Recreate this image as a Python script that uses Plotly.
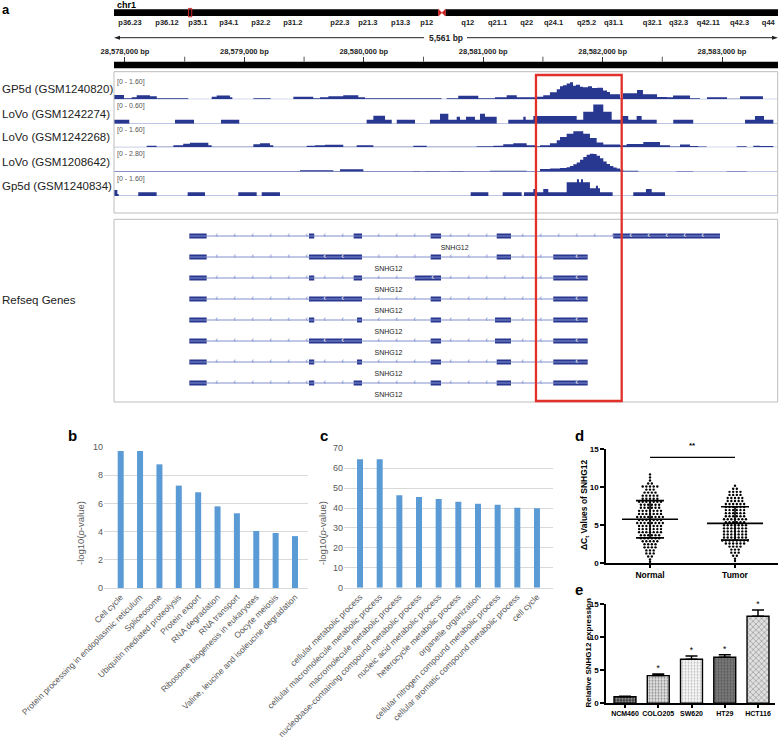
import plotly.graph_objects as go

# ======================= DATA =======================
# --- panel a: chromosome ideogram (chr1, Mb) ---
chrom_name = "chr1"
chrom_len_mb = 249.25
centromere_mb = 123.1
view_mb = 28.58
band_names = ["p36.23", "p36.12", "p35.1", "p34.1", "p32.2", "p31.2", "p22.3", "p21.3",
              "p13.3", "p12", "q12", "q21.1", "q22", "q24.1", "q25.2", "q31.1", "q32.1",
              "q32.3", "q42.11", "q42.3", "q44"]
band_pos_mb = [6.0, 19.9, 31.5, 43.1, 55.1, 67.1, 84.8, 95.3, 107.6, 117.4, 132.8, 144.0,
               154.9, 165.0, 177.4, 187.5, 202.1, 211.9, 223.1, 234.8, 245.6]

# --- panel a: locus ---
region_start = 28577908
region_end = 28583469
ruler_major = [28578000, 28579000, 28580000, 28581000, 28582000, 28583000]
ruler_minor = [28578500, 28579500, 28580500, 28581500, 28582500]
highlight_region = [28581442, 28582160]

track_names = ["GP5d (GSM1240820)", "LoVo (GSM1242274)", "LoVo (GSM1242268)",
               "LoVo (GSM1208642)", "Gp5d (GSM1240834)"]
track_max = [1.60, 0.60, 1.60, 2.80, 1.60]

t1_edges = [28577908, 28577992, 28578056, 28578098, 28578209, 28578266, 28578530, 28578726,
            28578768, 28578879, 28578899, 28579075, 28579220, 28579410, 28579577, 28579633,
            28579703, 28579828, 28579954, 28580010, 28580652, 28580694, 28580791, 28580959,
            28581099, 28581197, 28581281, 28581434, 28581503, 28581559, 28581616, 28581643,
            28581668, 28581699, 28581727, 28581752, 28581777, 28581811, 28581836, 28581878,
            28581911, 28581953, 28582003, 28582037, 28582062, 28582146, 28582171, 28582288,
            28582338, 28582456, 28582539, 28582590, 28582732, 28582816, 28582874, 28583042,
            28583151, 28583343, 28583469]
t1_vals = [0.30, 0.07, 0.14, 0.28, 0.21, 0.07, 0, 0.17, 0.26, 0.14, 0, 0.07, 0, 0.17, 0.07,
           0.14, 0.21, 0.28, 0.14, 0.07, 0, 0.07, 0.24, 0.07, 0.14, 0.28, 0.14, 0.17, 0.28,
           0.49, 0.70, 0.90, 0.97, 1.10, 1.18, 0.95, 1.02, 0.88, 0.84, 0.90, 0.78, 0.80, 0.62,
           0.50, 0.35, 0.07, 0.42, 0.65, 0.35, 0.16, 0.14, 0.26, 0.07, 0.02, 0.14, 0.035,
           0.21, 0]

t2_edges = [28577908, 28578036, 28578419, 28578578, 28578804, 28578957, 28580024, 28580080,
            28580178, 28580234, 28580276, 28580429, 28580554, 28580638, 28580708, 28580778,
            28580806, 28580856, 28580931, 28580973, 28581015, 28581113, 28581210, 28581336,
            28581356, 28581420, 28581783, 28581838, 28581922, 28582006, 28582076, 28582160,
            28582215, 28582285, 28582327, 28582453, 28582592, 28582759, 28583193, 28583276,
            28583352, 28583430, 28583469]
t2_vals = [0.10, 0, 0.10, 0, 0.10, 0, 0.10, 0.21, 0.10, 0, 0.10, 0, 0.10, 0.26, 0.10, 0.18,
           0.10, 0.18, 0.10, 0.26, 0.18, 0, 0.10, 0.18, 0.10, 0.20, 0.10, 0.31, 0.50, 0.31,
           0.10, 0.20, 0.10, 0.20, 0.10, 0, 0.10, 0, 0.10, 0.20, 0.10, 0]

t3_edges = [28577908, 28578182, 28578265, 28578405, 28578488, 28578544, 28578698, 28578726,
            28579075, 28579131, 28579214, 28579242, 28579522, 28579591, 28579675, 28579828,
            28579940, 28580080, 28580415, 28580527, 28580945, 28581085, 28581168, 28581252,
            28581364, 28581434, 28581476, 28581559, 28581616, 28581643, 28581699, 28581755,
            28581838, 28581894, 28581950, 28582006, 28582146, 28582202, 28582341, 28582481,
            28582564, 28582648, 28582732, 28582801, 28582872, 28583123, 28583207, 28583262,
            28583318, 28583430, 28583469]
t3_vals = [0.02, 0.10, 0.035, 0.14, 0.24, 0.31, 0.14, 0.035, 0.21, 0.28, 0.14, 0.035, 0.10,
           0.14, 0.17, 0.035, 0.14, 0.035, 0.10, 0.035, 0.07, 0.10, 0.21, 0.28, 0.14, 0.07,
           0.14, 0.28, 0.49, 0.72, 0.95, 1.11, 0.95, 0.65, 0.33, 0.19, 0.14, 0.23, 0.37, 0.14,
           0.05, 0.19, 0.09, 0.05, 0, 0.07, 0.02, 0.10, 0.09, 0]

t4_edges = [28577908, 28578067, 28579466, 28579745, 28579801, 28579996, 28580415, 28580471,
            28580513, 28580638, 28580722, 28580833, 28581057, 28581364, 28581476, 28581560,
            28581643, 28581699, 28581727, 28581755, 28581783, 28581811, 28581838, 28581866,
            28581894, 28581922, 28581950, 28581978, 28582006, 28582034, 28582062, 28582090,
            28582118, 28582146, 28582173, 28582299, 28582620, 28582759, 28583039, 28583207,
            28583469]
t4_vals = [0.06, 0.04, 0.18, 0.06, 0.30, 0.04, 0.085, 0.04, 0.085, 0.04, 0.085, 0.04, 0.12,
           0.04, 0.33, 0.40, 0.45, 0.55, 0.70, 0.90, 1.12, 1.45, 1.80, 2.05, 2.20, 2.15, 1.95,
           1.65, 1.25, 0.95, 0.70, 0.52, 0.38, 0.25, 0.12, 0, 0.06, 0, 0.04, 0]

t5_edges = [28577908, 28577936, 28577947, 28578111, 28578265, 28578525, 28578670, 28578949,
            28579103, 28579145, 28579298, 28580895, 28581043, 28581163, 28581322, 28581342,
            28581420, 28581448, 28581503, 28581545, 28581699, 28581785, 28581802, 28581819,
            28581836, 28581894, 28581944, 28581961, 28581978, 28582084, 28582257, 28582363,
            28582411, 28582523, 28583469]
t5_vals = [0.42, 0.14, 0, 0.26, 0, 0.26, 0, 0.26, 0, 0.26, 0, 0.26, 0, 0.26, 0, 0.26, 0.49,
           0.26, 0.49, 0.26, 0.95, 1.16, 0.95, 1.16, 0.95, 0.54, 0.72, 0.54, 0.26, 0, 0.26,
           0.49, 0.26, 0]

gene_name = "SNHG12"
transcripts = [
    [(28578539, 28578684), (28579541, 28579585), (28579915, 28579985), (28580560, 28580647),
     (28581113, 28581233), (28582089, 28582983)],
    [(28578539, 28578684), (28579541, 28579985), (28580560, 28580647), (28581113, 28581233),
     (28581587, 28581875)],
    [(28578539, 28578684), (28579541, 28579585), (28579915, 28579985), (28580429, 28580647),
     (28581587, 28581875)],
    [(28578539, 28578684), (28579541, 28579985), (28580560, 28580647), (28581587, 28581875)],
    [(28578539, 28578684), (28579541, 28579585), (28579943, 28579985), (28580560, 28580647),
     (28581099, 28581233), (28581587, 28581875)],
    [(28578539, 28578684), (28579541, 28579985), (28580560, 28580647), (28581099, 28581233),
     (28581587, 28581875)],
    [(28578539, 28578684), (28579541, 28579585), (28579943, 28579985), (28580560, 28580647),
     (28581113, 28581233), (28581587, 28581875)],
    [(28578539, 28578684), (28579541, 28579585), (28579915, 28579985), (28580560, 28580647),
     (28581113, 28581233), (28581587, 28581875)],
]

# --- panel b: KEGG ---
kegg_terms = ["Cell cycle", "Protein processing in endoplasmic reticulum", "Spliceosome",
              "Ubiquitin mediated proteolysis", "Protein export", "RNA degradation",
              "RNA transport", "Ribosome biogenesis in eukaryotes", "Oocyte meiosis",
              "Valine, leucine and isoleucine degradation"]
kegg_logp = [9.72, 9.72, 8.77, 7.26, 6.79, 5.79, 5.30, 4.04, 3.90, 3.68]

# --- panel c: GO ---
go_terms = ["cellular metabolic process", "cellular macromolecule metabolic process",
            "macromolecule metabolic process", "nucleobase-containing compound metabolic process",
            "nucleic acid metabolic process", "heterocycle metabolic process",
            "organelle organization", "cellular nitrogen compound metabolic process",
            "cellular aromatic compound metabolic process", "cell cycle"]
go_logp = [64.5, 64.5, 46.4, 45.6, 44.6, 43.1, 42.1, 41.6, 40.1, 39.9]

# --- panel d: delta Ct ---
d_groups = ["Normal", "Tumor"]
normal_ct = [11.7, 11.3, 10.9, 10.5, 10.5, 10.1, 10.1, 10.1, 10.1, 10.1, 9.7, 9.7, 9.7,
             9.3, 9.3, 9.3, 9.3, 8.9, 8.9, 8.9, 8.9, 8.9, 8.5, 8.5, 8.5, 8.5, 8.5,
             8.1, 8.1, 8.1, 8.1, 8.1, 8.1, 8.1, 7.7, 7.7, 7.7, 7.7, 7.7, 7.7,
             7.3, 7.3, 7.3, 7.3, 7.3, 7.3, 6.9, 6.9, 6.9, 6.9, 6.9, 6.9, 6.9,
             6.5, 6.5, 6.5, 6.5, 6.5, 6.5, 6.5, 6.1, 6.1, 6.1, 6.1, 6.1, 6.1, 6.1, 6.1,
             5.7, 5.7, 5.7, 5.7, 5.7, 5.7, 5.7, 5.3, 5.3, 5.3, 5.3, 5.3, 5.3, 5.3, 5.3,
             4.9, 4.9, 4.9, 4.9, 4.9, 4.9, 4.9, 4.5, 4.5, 4.5, 4.5, 4.5, 4.5, 4.5,
             4.1, 4.1, 4.1, 4.1, 4.1, 4.1, 4.1, 3.7, 3.7, 3.7, 3.7, 3.7, 3.7,
             3.3, 3.3, 3.3, 3.3, 3.3, 3.3, 2.9, 2.9, 2.9, 2.9, 2.9, 2.5, 2.5, 2.5, 2.5,
             2.1, 2.1, 2.1, 2.1, 1.7, 1.7, 1.7, 1.3, 1.3, 1.3, 0.9, 0.9, 0.5, 0.2]
tumor_ct = [10.2, 9.8, 9.8, 9.4, 9.4, 9.4, 9.4, 9.0, 9.0, 9.0, 9.0, 8.6, 8.6, 8.6, 8.6, 8.6,
            8.2, 8.2, 8.2, 8.2, 8.2, 7.8, 7.8, 7.8, 7.8, 7.8, 7.8, 7.4, 7.4, 7.4, 7.4, 7.4, 7.4,
            7.0, 7.0, 7.0, 7.0, 7.0, 7.0, 6.6, 6.6, 6.6, 6.6, 6.6, 6.6,
            6.2, 6.2, 6.2, 6.2, 6.2, 6.2, 5.8, 5.8, 5.8, 5.8, 5.8, 5.8, 5.8,
            5.4, 5.4, 5.4, 5.4, 5.4, 5.4, 5.0, 5.0, 5.0, 5.0, 5.0, 5.0, 5.0,
            4.6, 4.6, 4.6, 4.6, 4.6, 4.6, 4.6, 4.2, 4.2, 4.2, 4.2, 4.2, 4.2, 4.2,
            3.8, 3.8, 3.8, 3.8, 3.8, 3.8, 3.8, 3.4, 3.4, 3.4, 3.4, 3.4, 3.4, 3.4,
            3.0, 3.0, 3.0, 3.0, 3.0, 3.0, 3.0, 3.0, 2.6, 2.6, 2.6, 2.6, 2.6, 2.6,
            2.2, 2.2, 2.2, 2.2, 1.8, 1.8, 1.8, 1.4, 1.4, 1.4, 1.0, 1.0, 0.6, 0.3]
d_mean = [5.8, 5.25]
d_sd = [2.45, 2.2]
d_sig_level = 13.95
d_sig_text = "**"

# --- panel e: cell lines ---
cell_lines = ["NCM460", "COLO205", "SW620", "HT29", "HCT116"]
rel_expr = [1.0, 4.2, 6.67, 6.97, 13.2]
rel_err = [0.05, 0.25, 0.5, 0.4, 0.95]
rel_sig = ["", "*", "*", "*", "*"]

# ======================= STYLE / LAYOUT =======================
W, H = 782, 743
FONT = "Liberation Sans, Arial, Helvetica, sans-serif"
DARK = "#28378f"
BASE = "#aab3da"
INTRON = "#8391cf"
RED = "#e1312a"
XLBLUE = "#5b9bd5"
GRID = "#d9d9d9"
GRAYTXT = "#595959"


def fx(p):
    return p / W


def fy(p):
    return 1 - p / H


fig = go.Figure()
shapes = []
ann = []


def text(x, y, s, size, color="#222", xanchor="center", yanchor="middle", angle=0,
         xref="paper", yref="paper"):
    ann.append(dict(x=x, y=y, xref=xref, yref=yref, text=s, showarrow=False,
                    font=dict(family=FONT, size=size, color=color), xanchor=xanchor,
                    yanchor=yanchor, textangle=angle, borderpad=0))


L, R = 114, 778
axes = {}

# ---------- ideogram ----------
IT, IB = 9.3, 16.0
cw = 1.3
c = centromere_mb
shapes += [
    dict(type="rect", xref="x2", yref="paper", x0=0, x1=c - cw, y0=fy(IB), y1=fy(IT),
         fillcolor="black", line=dict(width=0)),
    dict(type="rect", xref="x2", yref="paper", x0=c + cw, x1=chrom_len_mb, y0=fy(IB), y1=fy(IT),
         fillcolor="black", line=dict(width=0)),
    dict(type="path", xref="x2", yref="paper",
         path=(f"M {c - cw},{fy(IT)} L {c},{fy((IT + IB) / 2)} L {c - cw},{fy(IB)} Z "
               f"M {c + cw},{fy(IT)} L {c},{fy((IT + IB) / 2)} L {c + cw},{fy(IB)} Z"),
         fillcolor="#d02020", line=dict(color="#d02020", width=0.5)),
    dict(type="rect", xref="x2", yref="paper", x0=view_mb - 0.6, x1=view_mb + 0.6,
         y0=fy(16.8), y1=fy(8.4), line=dict(color="#d02020", width=1),
         fillcolor="rgba(0,0,0,0)"),
]
fig.add_trace(go.Scatter(x=[view_mb], y=[0.5], xaxis="x2", yaxis="y7", mode="markers",
                         marker=dict(opacity=0, size=1), hoverinfo="skip"))
axes["xaxis2"] = dict(domain=[fx(L), fx(R)], range=[0, chrom_len_mb], anchor="free",
                      position=fy(IB), side="bottom", tickmode="array", tickvals=band_pos_mb,
                      ticktext=band_names, ticks="", showgrid=False, zeroline=False,
                      showline=False, automargin=False, fixedrange=True,
                      tickfont=dict(family=FONT, size=7.5, color="#222", weight="bold"))
axes["yaxis7"] = dict(domain=[fy(IB), fy(IT)], range=[0, 1], anchor="x2", visible=False,
                      fixedrange=True)
text(fx(0.5), fy(1), "<b>a</b>", 13, color="black", xanchor="left", yanchor="top")
text(fx(116), fy(4.8), f"<b>{chrom_name}</b>", 9, color="black", xanchor="left")

# ---------- ruler ----------
ry = 37.7
span_label = f"<b>{region_end - region_start:,} bp</b>"
mid = (L + R) / 2
shapes += [
    dict(type="line", xref="paper", yref="paper", x0=fx(L + 4), x1=fx(mid - 22), y0=fy(ry),
         y1=fy(ry), line=dict(color="#222", width=1)),
    dict(type="line", xref="paper", yref="paper", x0=fx(mid + 21), x1=fx(R - 4), y0=fy(ry),
         y1=fy(ry), line=dict(color="#222", width=1)),
    dict(type="path", xref="paper", yref="paper",
         path=f"M {fx(L)},{fy(ry)} L {fx(L + 6)},{fy(ry - 2)} L {fx(L + 6)},{fy(ry + 2)} Z",
         fillcolor="#222", line=dict(width=0)),
    dict(type="path", xref="paper", yref="paper",
         path=f"M {fx(R)},{fy(ry)} L {fx(R - 6)},{fy(ry - 2)} L {fx(R - 6)},{fy(ry + 2)} Z",
         fillcolor="#222", line=dict(width=0)),
    dict(type="rect", xref="x", yref="paper", x0=region_start, x1=region_end, y0=fy(68.3),
         y1=fy(61.7), fillcolor="black", line=dict(width=0)),
]
for v in ruler_minor:
    shapes.append(dict(type="line", xref="x", yref="paper", x0=v, x1=v, y0=fy(61.7),
                       y1=fy(56.7), line=dict(color="#555", width=1)))
text(fx(mid), fy(ry), span_label, 8.5, color="#222")
axes["xaxis"] = dict(domain=[fx(L), fx(R)], range=[region_start, region_end], anchor="free",
                     position=fy(61.7), side="top", tickmode="array", tickvals=ruler_major,
                     ticktext=[f"{v:,} bp" for v in ruler_major],
                     ticks="outside", ticklen=5, tickwidth=1, tickcolor="#333",
                     showgrid=False, zeroline=False, showline=False, automargin=False,
                     fixedrange=True,
                     tickfont=dict(family=FONT, size=7.5, color="#222", weight="bold"))

# ---------- tracks ----------
baselines = [99.3, 123.7, 147.3, 171.7, 196.0]
TRACK_PX = 23
tracks = [(t1_edges, t1_vals), (t2_edges, t2_vals), (t3_edges, t3_vals),
          (t4_edges, t4_vals), (t5_edges, t5_vals)]
shapes.append(dict(type="rect", xref="paper", yref="paper", x0=fx(L), x1=fx(777.7),
                   y0=fy(213), y1=fy(71.7), line=dict(color="#bdbdbd", width=1),
                   fillcolor="rgba(0,0,0,0)"))
for k, (edges, vals) in enumerate(tracks):
    yname = "y" if k == 0 else f"y{k + 1}"
    ykey = "yaxis" if k == 0 else f"yaxis{k + 1}"
    b = baselines[k]
    fig.add_trace(go.Scatter(x=edges, y=list(vals) + [vals[-1]], xaxis="x", yaxis=yname,
                             mode="lines", line=dict(shape="hv", width=0, color=DARK),
                             fill="tozeroy", fillcolor=DARK, hoverinfo="skip"))
    axes[ykey] = dict(domain=[fy(b), fy(b - TRACK_PX)], range=[0, track_max[k]], anchor="x",
                      visible=False, fixedrange=True)
    shapes.append(dict(type="line", xref="paper", yref=yname, x0=fx(L), x1=fx(R - 1), y0=0,
                       y1=0, line=dict(color=BASE, width=1.3), layer="below"))
    text(fx(1), fy(b - 10), track_names[k], 11.5, color="#222", xanchor="left")
    text(fx(116), fy(b - 17.3), f"[0 - {track_max[k]:.2f}]", 7, color="#555",
         xanchor="left")

# ---------- genes ----------
G_TOP, G_BOT = 219.3, 402
ROW0, ROWSTEP = 236, 21
shapes.append(dict(type="rect", xref="paper", yref="paper", x0=fx(L), x1=fx(777.7),
                   y0=fy(G_BOT), y1=fy(G_TOP), line=dict(color="#bdbdbd", width=1),
                   fillcolor="rgba(0,0,0,0)"))
axes["yaxis6"] = dict(domain=[fy(G_BOT), fy(G_TOP)],
                      range=[(G_BOT - ROW0) / ROWSTEP, -(ROW0 - G_TOP) / ROWSTEP],
                      anchor="x", visible=False, fixedrange=True)
text(fx(1), fy(300), "Refseq Genes", 11.5, color="#222", xanchor="left")

ix, iy = [], []
ex_y, ex_base, ex_len = [], [], []
cx_i, cy_i, cx_e, cy_e = [], [], [], []
lab_x, lab_y = [], []
CHEV0, CHEV_STEP, CHEV_MARGIN = 28578768, 150.75, 50
for i, tr in enumerate(transcripts):
    ts, te = tr[0][0], tr[-1][1]
    ix += [ts, te, None]
    iy += [i, i, None]
    for s, e in tr:
        ex_y.append(i)
        ex_base.append(s)
        ex_len.append(e - s)
    g = CHEV0
    while g - CHEV_STEP > ts:
        g -= CHEV_STEP
    while g < te:
        inside = [(s, e) for s, e in tr if s <= g <= e]
        if inside:
            s, e = inside[0]
            if e - s > 150 and g - s >= CHEV_MARGIN and e - g >= CHEV_MARGIN:
                cx_e.append(g)
                cy_e.append(i)
        else:
            cx_i.append(g)
            cy_i.append(i)
        g += CHEV_STEP
    lab_x.append((ts + te) / 2)
    lab_y.append(i + 12 / ROWSTEP)

fig.add_trace(go.Scatter(x=ix, y=iy, xaxis="x", yaxis="y6", mode="lines",
                         line=dict(color=INTRON, width=1.2), hoverinfo="skip"))
fig.add_trace(go.Scatter(x=cx_i, y=cy_i, xaxis="x", yaxis="y6", mode="text",
                         text=["‹"] * len(cx_i), textposition="middle center",
                         textfont=dict(family=FONT, size=9, color=INTRON), hoverinfo="skip",
                         cliponaxis=False))
fig.add_trace(go.Bar(orientation="h", y=ex_y, x=ex_len, base=ex_base, width=5 / ROWSTEP,
                     xaxis="x", yaxis="y6", marker=dict(color=DARK, line=dict(width=0)),
                     hoverinfo="skip"))
fig.add_trace(go.Scatter(x=cx_e, y=cy_e, xaxis="x", yaxis="y6", mode="text",
                         text=["‹"] * len(cx_e), textposition="middle center",
                         textfont=dict(family=FONT, size=9, color="white"), hoverinfo="skip",
                         cliponaxis=False))
fig.add_trace(go.Scatter(x=lab_x, y=lab_y, xaxis="x", yaxis="y6", mode="text",
                         text=[gene_name] * len(lab_x), textposition="middle center",
                         textfont=dict(family=FONT, size=7, color="#222"), hoverinfo="skip",
                         cliponaxis=False))

shapes.append(dict(type="rect", xref="x", yref="paper", x0=highlight_region[0],
                   x1=highlight_region[1], y0=fy(401), y1=fy(75),
                   line=dict(color=RED, width=2.3), fillcolor="rgba(0,0,0,0)"))

# ---------- panel b ----------
fig.add_trace(go.Bar(x=kegg_terms, y=kegg_logp, xaxis="x3", yaxis="y8", width=0.31,
                     marker=dict(color=XLBLUE, line=dict(width=0)), hoverinfo="skip"))
axes["xaxis3"] = dict(domain=[fx(104), fx(308)], type="category", range=[-0.862, 9.671],
                      anchor="y8", tickangle=-45, ticks="", showgrid=False, zeroline=False,
                      showline=True, linecolor=GRID, linewidth=1, automargin=False,
                      fixedrange=True, tickfont=dict(family=FONT, size=8.5, color=GRAYTXT))
axes["yaxis8"] = dict(domain=[fy(588), fy(447)], range=[0, 10], dtick=2, anchor="x3",
                      ticks="", showgrid=True, gridcolor=GRID, gridwidth=1, zeroline=False,
                      showline=False, automargin=False, fixedrange=True,
                      tickfont=dict(family=FONT, size=9, color=GRAYTXT))
text(fx(80), fy(533), "-log10(<i>p</i>-value)", 9.5, color=GRAYTXT, angle=-90)
text(fx(72.5), fy(435), "<b>b</b>", 15, color="black")

# ---------- panel c ----------
fig.add_trace(go.Bar(x=go_terms, y=go_logp, xaxis="x4", yaxis="y9", width=0.305,
                     marker=dict(color=XLBLUE, line=dict(width=0)), hoverinfo="skip"))
axes["xaxis4"] = dict(domain=[fx(344), fx(553)], type="category", range=[-0.815, 9.815],
                      anchor="y9", tickangle=-45, ticks="", showgrid=False, zeroline=False,
                      showline=True, linecolor=GRID, linewidth=1, automargin=False,
                      fixedrange=True, tickfont=dict(family=FONT, size=8.5, color=GRAYTXT))
axes["yaxis9"] = dict(domain=[fy(587.7), fy(448.3)], range=[0, 70], dtick=10, anchor="x4",
                      ticks="", showgrid=True, gridcolor=GRID, gridwidth=1, zeroline=False,
                      showline=False, automargin=False, fixedrange=True,
                      tickfont=dict(family=FONT, size=9, color=GRAYTXT))
text(fx(322), fy(533), "-log10(<i>p</i>-value)", 9.5, color=GRAYTXT, angle=-90)
text(fx(324), fy(436), "<b>c</b>", 15, color="black")


# ---------- panel d ----------
def swarm_offsets(vals, step):
    counts = {}
    for v in vals:
        counts[v] = counts.get(v, 0) + 1
    seen = {}
    out = []
    for v in vals:
        n = counts[v]
        j = seen.get(v, 0)
        seen[v] = j + 1
        out.append((j - (n - 1) / 2) * step)
    return out


D_STEP = 0.043
for gi, vals in enumerate([normal_ct, tumor_ct]):
    offs = swarm_offsets(vals, D_STEP)
    fig.add_trace(go.Scatter(x=[gi + o for o in offs], y=vals, xaxis="x5", yaxis="y10",
                             mode="markers", marker=dict(color="black", size=2.4),
                             hoverinfo="skip", cliponaxis=False))
    fig.add_trace(go.Scatter(x=[gi - 0.33, gi + 0.33], y=[d_mean[gi], d_mean[gi]],
                             xaxis="x5", yaxis="y10", mode="lines",
                             line=dict(color="black", width=1.6), hoverinfo="skip"))
    fig.add_trace(go.Scatter(x=[gi], y=[d_mean[gi]], xaxis="x5", yaxis="y10", mode="markers",
                             marker=dict(size=0.1, color="black"),
                             error_y=dict(type="data", array=[d_sd[gi]], visible=True,
                                          color="black", thickness=1.6, width=14),
                             hoverinfo="skip"))
shapes.append(dict(type="line", xref="x5", yref="y10", x0=0, x1=1, y0=d_sig_level,
                   y1=d_sig_level, line=dict(color="black", width=1.3)))
text(fx(692), fy(446), f"<b>{d_sig_text}</b>", 8, color="black")
axes["xaxis5"] = dict(domain=[fx(606), fx(778)], range=[-0.518, 1.506], anchor="y10",
                      tickmode="array", tickvals=[0, 1], ticktext=d_groups, ticks="outside",
                      ticklen=3, tickwidth=1.5, tickcolor="black", showgrid=False,
                      zeroline=False, showline=True, linecolor="black", linewidth=1.5,
                      automargin=False, fixedrange=True, tickangle=0,
                      tickfont=dict(family=FONT, size=8.5, color="black", weight="bold"))
axes["yaxis10"] = dict(domain=[fy(563.3), fy(449.3)], range=[0, 15], dtick=5, anchor="x5",
                       ticks="outside", ticklen=4, tickwidth=1.5, tickcolor="black",
                       showgrid=False, zeroline=False, showline=True, linecolor="black",
                       linewidth=1.5, automargin=False, fixedrange=True,
                       tickfont=dict(family=FONT, size=8, color="black", weight="bold"))
text(fx(585), fy(505), "<b>ΔC<sub>t</sub> Values of SNHG12</b>", 8.5, color="black",
     angle=-90)
text(fx(579), fy(435), "<b>d</b>", 15, color="black")

# ---------- panel e ----------
e_style = [  # (pattern shape, background, foreground, pattern size, solidity)
    (".", "#3e3e3e", "#a0a0a0", 3, 0.4),
    (".", "#e2e2e2", "#888888", 3, 0.35),
    (".", "#f8f8f8", "#bbbbbb", 3, 0.3),
    (".", "#7a7a7a", "#555555", 3, 0.35),
    ("x", "#e0e0e0", "#7f7f7f", 4, 0.25),
]
for k, name in enumerate(cell_lines):
    shp, bg, fg, sz, sol = e_style[k]
    fig.add_trace(go.Bar(x=[name], y=[rel_expr[k]], xaxis="x6", yaxis="y11", width=0.66,
                         marker=dict(color=bg, line=dict(color="black", width=1.4),
                                     pattern=dict(shape=shp, bgcolor=bg, fgcolor=fg, size=sz,
                                                  solidity=sol, fillmode="replace")),
                         error_y=dict(type="data", symmetric=False, array=[rel_err[k]],
                                      arrayminus=[0], visible=True, color="black",
                                      thickness=1.5, width=6),
                         hoverinfo="skip"))
STAR_GAP = 0.75
sig_x = [n for n, s in zip(cell_lines, rel_sig) if s]
sig_y = [v + e + STAR_GAP for v, e, s in zip(rel_expr, rel_err, rel_sig) if s]
fig.add_trace(go.Scatter(x=sig_x, y=sig_y, text=[s for s in rel_sig if s], mode="text",
                         xaxis="x6", yaxis="y11", textposition="middle center",
                         textfont=dict(family=FONT, size=8.5, color="black"),
                         hoverinfo="skip", cliponaxis=False))
axes["xaxis6"] = dict(domain=[fx(606), fx(775)], type="category", range=[-0.571, 4.511],
                      categoryorder="array", categoryarray=cell_lines,
                      anchor="y11", ticks="outside", ticklen=3, tickwidth=1.5,
                      tickcolor="black", showgrid=False, zeroline=False, showline=True,
                      linecolor="black", linewidth=1.5, automargin=False, fixedrange=True,
                      tickangle=0,
                      tickfont=dict(family=FONT, size=7, color="black", weight="bold"))
axes["yaxis11"] = dict(domain=[fy(703.3), fy(604.3)], range=[0, 15], dtick=5, anchor="x6",
                       ticks="outside", ticklen=4, tickwidth=1.5, tickcolor="black",
                       showgrid=False, zeroline=False, showline=True, linecolor="black",
                       linewidth=1.5, automargin=False, fixedrange=True,
                       tickfont=dict(family=FONT, size=8, color="black", weight="bold"))
text(fx(588), fy(653.5), "<b>Relative SNHG12 expression</b>", 8, color="black", angle=-90)
text(fx(579), fy(589), "<b>e</b>", 15, color="black")

fig.update_layout(width=W, height=H, margin=dict(l=0, r=0, t=0, b=0), template="none",
                  paper_bgcolor="white", plot_bgcolor="rgba(0,0,0,0)", showlegend=False,
                  barmode="overlay", hovermode=False, font=dict(family=FONT),
                  shapes=shapes, annotations=ann, **axes)
fig.write_html("out.html", config={"displayModeBar": False},
               post_script="document.body.style.margin='0px';")
